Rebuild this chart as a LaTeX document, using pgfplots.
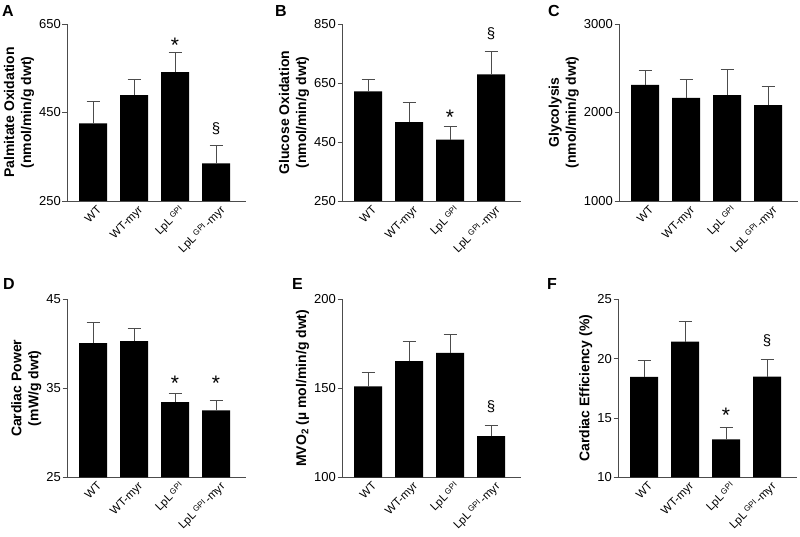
\documentclass[border=0pt]{standalone}
\usepackage{fontspec}
\setmainfont{Liberation Sans}
\usepackage{pgfplots}
\pgfplotsset{compat=1.18}
\usepackage{pgfplotstable}

\pgfplotstableread{
x y e
0 425.5 49.5
1 489.5 36
2 541 45
3 335 41
}\dataA
\pgfplotstableread{
x y e
0 621.5 39.5
1 517 66
2 458 44
3 679 78
}\dataB
\pgfplotstableread{
x y e
0 2311 168
1 2165 213
2 2195 292
3 2082 210
}\dataC
\pgfplotstableread{
x y e
0 40.07 2.31
1 40.29 1.46
2 33.45 0.97
3 32.51 1.13
}\dataD
\pgfplotstableread{
x y e
0 151.1 7.7
1 165.2 11
2 169.9 10.6
3 123.2 6
}\dataE
\pgfplotstableread{
x y e
0 18.46 1.37
1 21.43 1.69
2 13.2 0.96
3 18.48 1.41
}\dataF

\newcommand{\gpi}{\,\raisebox{0.45ex}{\fontsize{8}{9}\selectfont GPI}}
\pgfplotsset{
  panel/.style={
    scale only axis, width=179pt, height=177pt,
    axis x line*=bottom, axis y line*=left,
    axis line style={black!70, line width=0.8pt},
    ybar, bar width=28pt,
    xmin=-0.634, xmax=3.73,
    xtick={0,1,2,3},
    xticklabels={WT, WT-myr, LpL\gpi, LpL\gpi\,-myr},
    x tick style={draw=none},
    y tick style={black!70, line width=0.8pt},
    tick align=outside, major tick length=4.5pt,
    xticklabel style={rotate=45, anchor=north east, font=\fontsize{11.5}{13}\selectfont, inner sep=1pt, xshift=4pt, yshift=-1pt},
    yticklabel style={font=\fontsize{13}{15}\selectfont, inner sep=1.5pt},
    /pgf/number format/assume math mode=true,
    /pgf/number format/1000 sep={},
    ylabel style={align=center, font=\bfseries\fontsize{14}{17}\selectfont},
    enlarge y limits=false,
    clip=true,
  },
  bars/.style={fill=black, draw=none,
    error bars/.cd, y dir=plus, y explicit,
    error bar style={line width=0.9pt, black!70},
    error mark options={rotate=90, mark size=6.5pt, line width=0.9pt, black!70}},
}
\newcommand{\sym}{\fontsize{15}{16}\selectfont}
\newcommand{\st}{\fontsize{21}{22}\selectfont}

\begin{document}
\begin{tikzpicture}
\path[use as bounding box] (0pt,0pt) rectangle (800pt,536pt);

% Panel letters
\node[anchor=north west, inner sep=0pt, font=\bfseries\fontsize{16}{18}\selectfont] at (2pt,531pt) {A};
\node[anchor=north west, inner sep=0pt, font=\bfseries\fontsize{16}{18}\selectfont] at (275pt,531pt) {B};
\node[anchor=north west, inner sep=0pt, font=\bfseries\fontsize{16}{18}\selectfont] at (548pt,531pt) {C};
\node[anchor=north west, inner sep=0pt, font=\bfseries\fontsize{16}{18}\selectfont] at (3pt,258pt) {D};
\node[anchor=north west, inner sep=0pt, font=\bfseries\fontsize{16}{18}\selectfont] at (292pt,258pt) {E};
\node[anchor=north west, inner sep=0pt, font=\bfseries\fontsize{16}{18}\selectfont] at (547pt,258pt) {F};

\begin{axis}[panel, at={(67pt,335pt)}, anchor=south west,
  ymin=250, ymax=650, ytick={250,450,650},
  ylabel={Palmitate Oxidation\\(nmol/min/g dwt)}]
\addplot[bars] table[x=x, y=y, y error=e] {\dataA};
\node[font=\st] at (axis cs:2,601) {*};
\node[font=\sym] at (axis cs:3,414) {§};
\end{axis}

\begin{axis}[panel, at={(342pt,335pt)}, anchor=south west,
  ymin=250, ymax=850, ytick={250,450,650,850},
  ylabel={Glucose Oxidation\\(nmol/min/g dwt)}]
\addplot[bars] table[x=x, y=y, y error=e] {\dataB};
\node[font=\st] at (axis cs:2,534) {*};
\node[font=\sym] at (axis cs:3,816) {§};
\end{axis}

\begin{axis}[panel, at={(619pt,335pt)}, anchor=south west,
  ymin=1000, ymax=3000, ytick={1000,2000,3000},
  ylabel={Glycolysis\\(nmol/min/g dwt)}]
\addplot[bars] table[x=x, y=y, y error=e] {\dataC};
\end{axis}

\begin{axis}[panel, at={(67pt,58.7pt)}, anchor=south west, height=178pt,
  ymin=25, ymax=45, ytick={25,35,45},
  ylabel={Cardiac Power\\(mW/g dwt)}]
\addplot[bars] table[x=x, y=y, y error=e] {\dataD};
\node[font=\st] at (axis cs:2,35.6) {*};
\node[font=\st] at (axis cs:3,35.6) {*};
\end{axis}

\begin{axis}[panel, at={(342pt,58.7pt)}, anchor=south west, height=178pt,
  ymin=100, ymax=200, ytick={100,150,200},
  ylabel={MVO\textsubscript{2} (µ mol/min/g dwt)}]
\addplot[bars] table[x=x, y=y, y error=e] {\dataE};
\node[font=\sym] at (axis cs:3,139.7) {§};
\end{axis}

\begin{axis}[panel, at={(618pt,58.7pt)}, anchor=south west, height=178pt,
  ymin=10, ymax=25, ytick={10,15,20,25},
  ylabel={Cardiac Efficiency (\%)}]
\addplot[bars] table[x=x, y=y, y error=e] {\dataF};
\node[font=\st] at (axis cs:2,15.2) {*};
\node[font=\sym] at (axis cs:3,21.5) {§};
\end{axis}
\end{tikzpicture}
\end{document}
